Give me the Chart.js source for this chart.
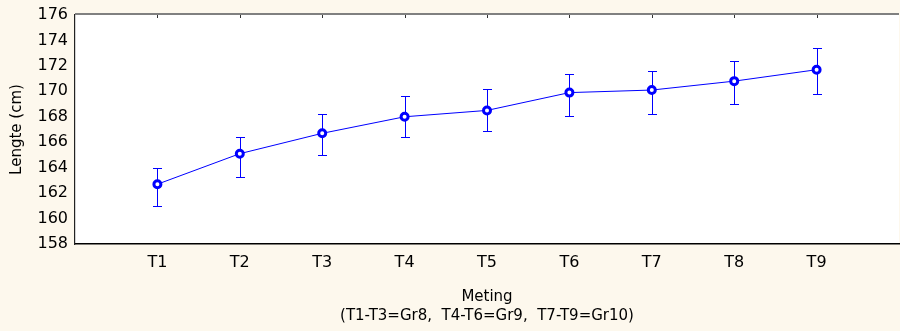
<!DOCTYPE html>
<html>
<head>
<meta charset="utf-8">
<script src="https://cdn.jsdelivr.net/npm/chart.js@4"></script>
<style>
  html, body { margin: 0; padding: 0; background: #fdf8ed; overflow: hidden; }
  #wrap { width: 906px; height: 331px; }
</style>
</head>
<body>
<div id="wrap"><canvas id="myChart"></canvas></div>
<script>
// data
const labels = ["T1", "T2", "T3", "T4", "T5", "T6", "T7", "T8", "T9"];
const meanValues = [162.7, 165.1, 166.7, 168.0, 168.5, 169.9, 170.1, 170.8, 171.7];
const errLow = [161.0, 163.3, 165.0, 166.4, 166.9, 168.1, 168.2, 169.0, 169.8];
const errHigh = [164.0, 166.4, 168.2, 169.6, 170.2, 171.4, 171.6, 172.4, 173.4];
const yTicks = [158, 160, 162, 164, 166, 168, 170, 172, 174, 176];

const blue = "#0000ff";
const font = "'DejaVu Sans', sans-serif";

const points = labels.map((l, i) => ({ x: i + 1, y: meanValues[i] }));

// white plot area, frame and error bars, all placed with the chart scales
const errorBars = {
  id: "errorBars",
  beforeDraw(chart) {
    const { ctx, chartArea } = chart;
    ctx.save();
    ctx.fillStyle = "#ffffff";
    ctx.fillRect(chartArea.left, chartArea.top, chartArea.right - chartArea.left, chartArea.bottom - chartArea.top);
    ctx.restore();
  },
  beforeDatasetsDraw(chart) {
    const { ctx, chartArea, scales } = chart;
    ctx.save();
    // top border (gray)
    ctx.strokeStyle = "#808080";
    ctx.lineWidth = 2;
    ctx.beginPath();
    ctx.moveTo(chartArea.left, chartArea.top - 1);
    ctx.lineTo(chartArea.right, chartArea.top - 1);
    ctx.stroke();
    // top ticks
    ctx.strokeStyle = "#333";
    ctx.lineWidth = 1;
    labels.forEach((l, i) => {
      const x = Math.round(scales.x.getPixelForValue(i + 1)) + 0.5;
      ctx.beginPath();
      ctx.moveTo(x, chartArea.top);
      ctx.lineTo(x, chartArea.top + 3);
      ctx.stroke();
    });
    // error bars
    ctx.strokeStyle = blue;
    ctx.lineWidth = 1;
    labels.forEach((l, i) => {
      const x = Math.round(scales.x.getPixelForValue(i + 1)) + 0.5;
      const yl = Math.round(scales.y.getPixelForValue(errLow[i])) + 0.5;
      const yh = Math.round(scales.y.getPixelForValue(errHigh[i])) + 0.5;
      ctx.beginPath();
      ctx.moveTo(x, yl);
      ctx.lineTo(x, yh);
      ctx.moveTo(x - 4.5, yl);
      ctx.lineTo(x + 4.5, yl);
      ctx.moveTo(x - 4.5, yh);
      ctx.lineTo(x + 4.5, yh);
      ctx.stroke();
    });
    ctx.restore();
  },
};

const ctx = document.getElementById("myChart");
new Chart(ctx, {
  type: "line",
  data: {
    datasets: [
      {
        data: points,
        borderColor: blue,
        borderWidth: 1,
        pointRadius: 3.5,
        pointBorderWidth: 3,
        pointBackgroundColor: "#ffffff",
        pointBorderColor: blue,
        tension: 0,
      },
    ],
  },
  options: {
    responsive: true,
    maintainAspectRatio: false,
    animation: false,
    layout: { padding: { top: 15, right: 0, left: 0, bottom: 0 } },
    plugins: { legend: { display: false }, tooltip: { enabled: false } },
    scales: {
      x: {
        type: "linear",
        min: 0,
        max: 10,
        afterBuildTicks: (scale) => {
          scale.ticks = labels.map((l, i) => ({ value: i + 1 }));
        },
        afterFit: (scale) => { scale.height = 87; },
        grid: { display: false, drawTicks: true, tickLength: 4, tickColor: "#000" },
        border: { display: true, color: "#000", width: 1.5 },
        ticks: {
          color: "#000",
          font: { family: font, size: 16 },
          padding: 5,
          maxRotation: 0,
          autoSkip: false,
          callback: (v) => labels[v - 1] || "",
        },
        title: {
          display: true,
          text: ["Meting", "(T1-T3=Gr8,  T4-T6=Gr9,  T7-T9=Gr10)"],
          color: "#000",
          font: { family: font, size: 15, lineHeight: 1.27 },
          padding: { top: 0, bottom: 5 },
        },
      },
      y: {
        min: 158,
        max: 176,
        afterBuildTicks: (scale) => {
          scale.ticks = yTicks.map((v) => ({ value: v }));
        },
        afterFit: (scale) => { scale.width = 75; },
        grid: { display: false, drawTicks: true, tickLength: 4, tickColor: "#000" },
        border: { display: true, color: "#222", width: 1.2 },
        ticks: {
          color: "#000",
          font: { family: font, size: 16 },
          padding: 3,
        },
        title: {
          display: true,
          text: "Lengte (cm)",
          color: "#000",
          font: { family: font, size: 15 },
          padding: { top: 8, bottom: 0 },
        },
      },
    },
  },
  plugins: [errorBars],
});
</script>
</body>
</html>
